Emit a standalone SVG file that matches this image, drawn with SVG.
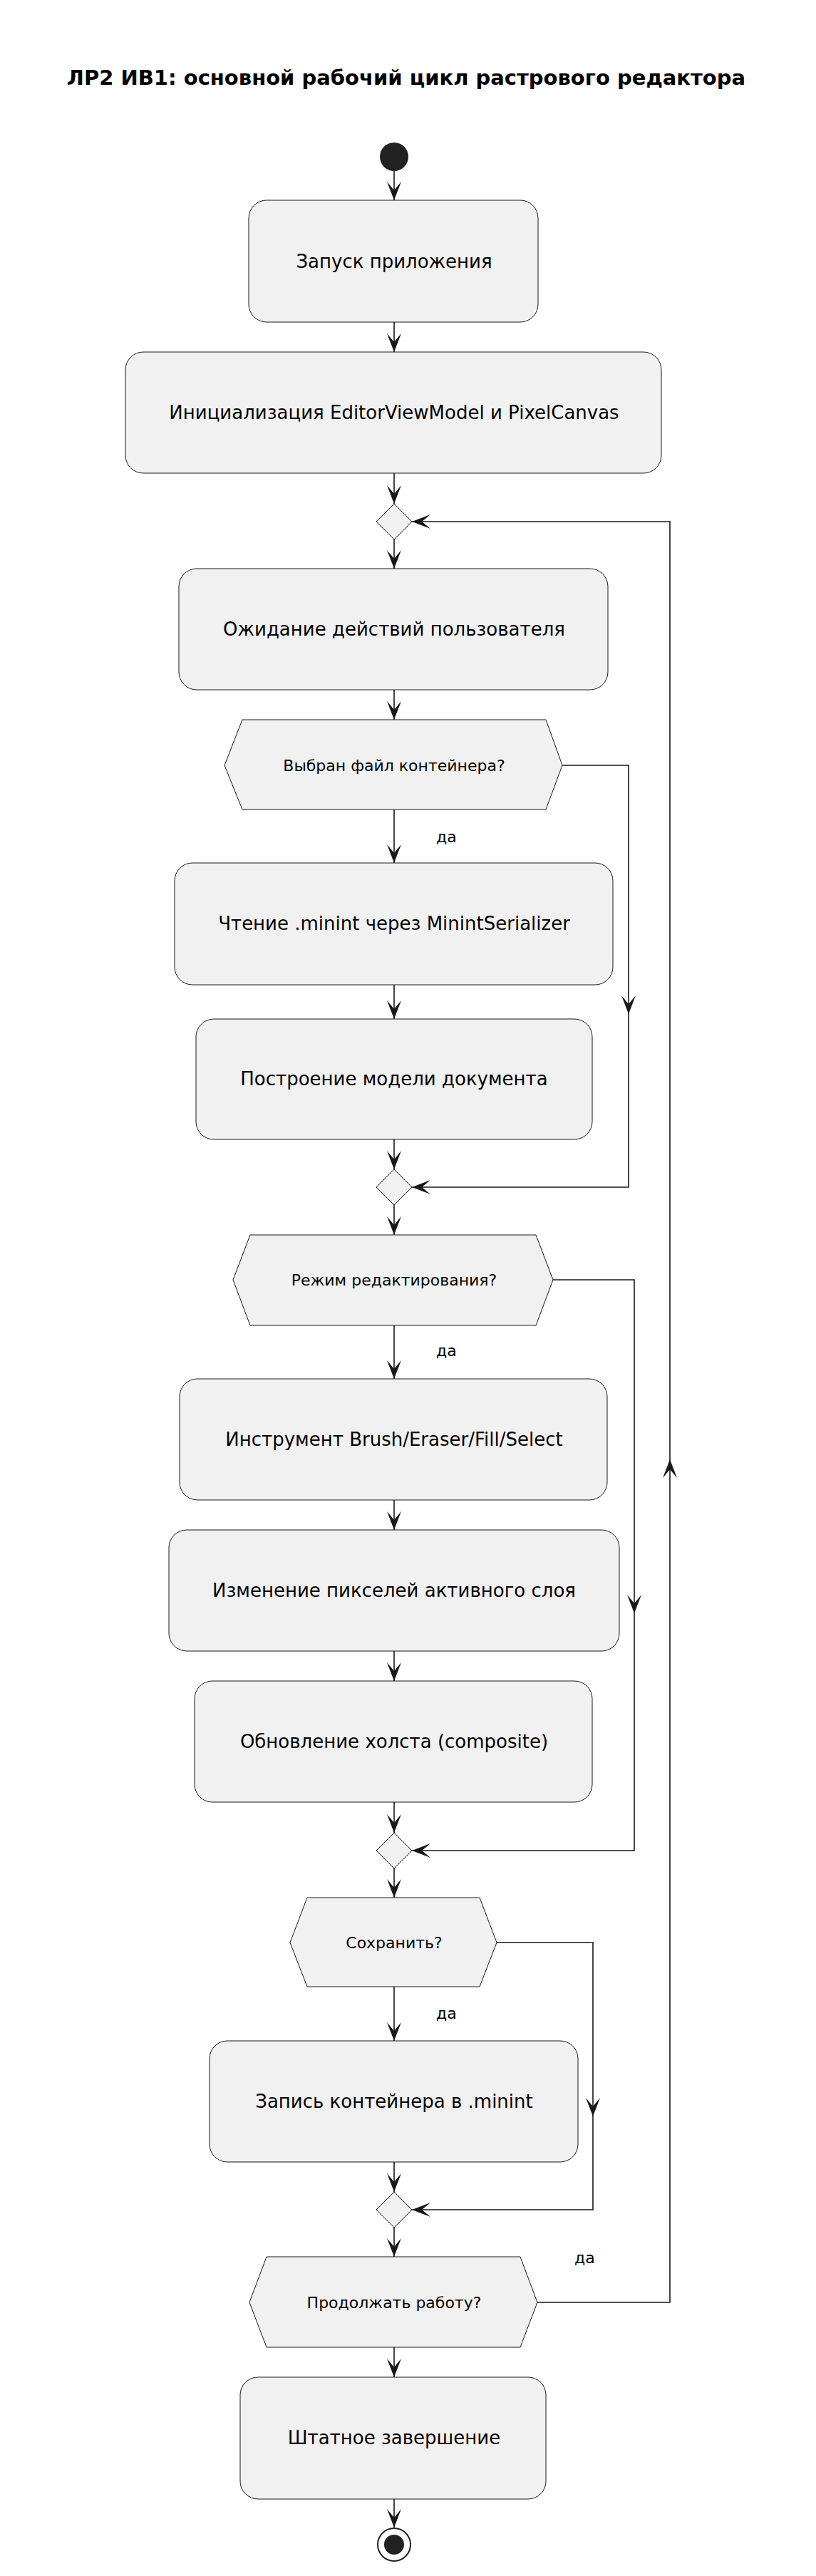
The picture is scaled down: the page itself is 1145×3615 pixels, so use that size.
<svg xmlns="http://www.w3.org/2000/svg" xmlns:xlink="http://www.w3.org/1999/xlink" width="1145" height="3615" viewBox="0 0 1145 3615">
<style>
.box{fill:#f1f1f1;stroke:#181818;stroke-width:1}
.t{font-family:"DejaVu Sans",sans-serif;font-size:26px;fill:#000;text-anchor:middle}
.ts{font-family:"DejaVu Sans",sans-serif;font-size:22px;fill:#000;text-anchor:middle}
.lbl{font-family:"DejaVu Sans",sans-serif;font-size:22px;fill:#000}
.ln{fill:none;stroke:#181818;stroke-width:1.6}
.ah{fill:#181818}
</style>
<defs><path id="ah" class="ah" d="M0,0 L-10,-26 L0,-14 L10,-26 Z"/></defs>
<rect width="1145" height="3615" fill="#fff"/>
<text x="570" y="119" font-family="DejaVu Sans,sans-serif" font-weight="bold" font-size="29" text-anchor="middle">ЛР2 ИВ1: основной рабочий цикл растрового редактора</text>
<g id="connectors">
<path class="ln" d="M553,240 V281 M553,452 V494 M553,664 V707 M553,757 V798 M553,968 V1010 M553,1136 V1211 M553,1382 V1430 M553,1599 V1641 M553,1691 V1733 M553,1860 V1935 M553,2105 V2147 M553,2317 V2359 M553,2529 V2572 M553,2622 V2663 M553,2788 V2864 M553,3034 V3076 M553,3126 V3167 M553,3294 V3336 M553,3507 V3547"/>
<path class="ln" d="M789,1074 H882 V1666 H578"/>
<path class="ln" d="M776,1796 H890 V2597 H578"/>
<path class="ln" d="M697,2726 H832 V3101 H578"/>
<path class="ln" d="M754,3231 H940 V732 H578"/>
<use href="#ah" transform="translate(553,281)"/>
<use href="#ah" transform="translate(553,494)"/>
<use href="#ah" transform="translate(553,707)"/>
<use href="#ah" transform="translate(553,798)"/>
<use href="#ah" transform="translate(553,1010)"/>
<use href="#ah" transform="translate(553,1211)"/>
<use href="#ah" transform="translate(553,1430)"/>
<use href="#ah" transform="translate(553,1641)"/>
<use href="#ah" transform="translate(553,1733)"/>
<use href="#ah" transform="translate(553,1935)"/>
<use href="#ah" transform="translate(553,2147)"/>
<use href="#ah" transform="translate(553,2359)"/>
<use href="#ah" transform="translate(553,2572)"/>
<use href="#ah" transform="translate(553,2663)"/>
<use href="#ah" transform="translate(553,2864)"/>
<use href="#ah" transform="translate(553,3076)"/>
<use href="#ah" transform="translate(553,3167)"/>
<use href="#ah" transform="translate(553,3336)"/>
<use href="#ah" transform="translate(553,3547)"/>
<use href="#ah" transform="translate(882,1423)"/>
<use href="#ah" transform="translate(890,2264)"/>
<use href="#ah" transform="translate(832,2970)"/>
<use href="#ah" transform="translate(940,2048) rotate(180)"/>
<use href="#ah" transform="translate(578,732) rotate(90)"/>
<use href="#ah" transform="translate(578,1666) rotate(90)"/>
<use href="#ah" transform="translate(578,2597) rotate(90)"/>
<use href="#ah" transform="translate(578,3101) rotate(90)"/>
<text class="lbl" x="612" y="1182">да</text>
<text class="lbl" x="612" y="1903">да</text>
<text class="lbl" x="612" y="2833">да</text>
<text class="lbl" x="806" y="3176">да</text>
</g>
<g id="start"><circle cx="553" cy="220" r="20" fill="#222"/></g>
<g id="n1"><rect class="box" x="349" y="281" width="406" height="171" rx="25"/><text class="t" x="553" y="376">Запуск приложения</text></g>
<g id="n2"><rect class="box" x="176" y="494" width="752" height="170" rx="25"/><text class="t" x="553" y="588">Инициализация EditorViewModel и PixelCanvas</text></g>
<g id="m1"><polygon class="box" points="553,707 578,732 553,757 528,732"/></g>
<g id="n3"><rect class="box" x="251" y="798" width="602" height="170" rx="25"/><text class="t" x="553" y="892">Ожидание действий пользователя</text></g>
<g id="d1"><polygon class="box" points="340,1010 766,1010 789,1074 766,1136 340,1136 315,1074"/><text class="ts" x="553" y="1082">Выбран файл контейнера?</text></g>
<g id="n4"><rect class="box" x="245" y="1211" width="615" height="171" rx="25"/><text class="t" x="553" y="1305">Чтение .minint через MinintSerializer</text></g>
<g id="n5"><rect class="box" x="275" y="1430" width="556" height="169" rx="25"/><text class="t" x="553" y="1523">Построение модели документа</text></g>
<g id="m2"><polygon class="box" points="553,1641 578,1666 553,1691 528,1666"/></g>
<g id="d2"><polygon class="box" points="351,1733 752,1733 776,1796 752,1860 351,1860 327,1796"/><text class="ts" x="553" y="1804">Режим редактирования?</text></g>
<g id="n6"><rect class="box" x="252" y="1935" width="600" height="170" rx="25"/><text class="t" x="553" y="2029">Инструмент Brush/Eraser/Fill/Select</text></g>
<g id="n7"><rect class="box" x="237" y="2147" width="632" height="170" rx="25"/><text class="t" x="553" y="2241">Изменение пикселей активного слоя</text></g>
<g id="n8"><rect class="box" x="273" y="2359" width="558" height="170" rx="25"/><text class="t" x="553" y="2453">Обновление холста (composite)</text></g>
<g id="m3"><polygon class="box" points="553,2572 578,2597 553,2622 528,2597"/></g>
<g id="d3"><polygon class="box" points="431,2663 673,2663 697,2726 673,2788 431,2788 407,2726"/><text class="ts" x="553" y="2734">Сохранить?</text></g>
<g id="n9"><rect class="box" x="294" y="2864" width="517" height="170" rx="25"/><text class="t" x="553" y="2958">Запись контейнера в .minint</text></g>
<g id="m4"><polygon class="box" points="553,3076 578,3101 553,3126 528,3101"/></g>
<g id="d4"><polygon class="box" points="374,3167 730,3167 754,3231 730,3294 374,3294 350,3231"/><text class="ts" x="553" y="3239">Продолжать работу?</text></g>
<g id="n10"><rect class="box" x="337" y="3336" width="429" height="171" rx="25"/><text class="t" x="553" y="3430">Штатное завершение</text></g>
<g id="end"><circle cx="553" cy="3571" r="23" fill="none" stroke="#222" stroke-width="2"/><circle cx="553" cy="3571" r="14" fill="#222"/></g>
</svg>
